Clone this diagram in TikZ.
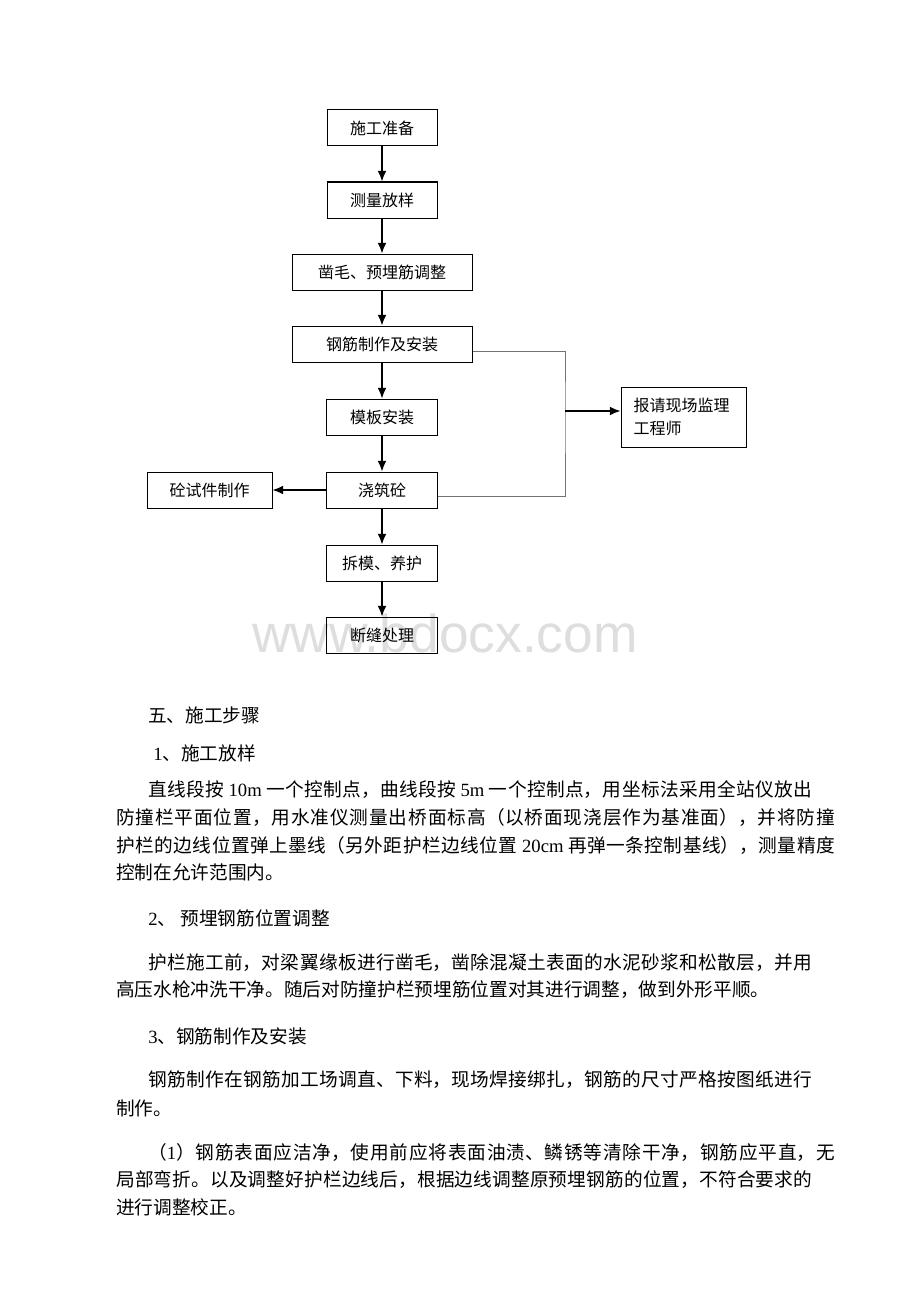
\documentclass[tikz,border=0pt]{standalone}
\usepackage{fontspec}
\setmainfont{Liberation Serif}
\newfontfamily\cjk{Noto Sans CJK SC}
\newfontfamily\wmfont{Liberation Sans}
\usetikzlibrary{arrows.meta,calc}
\XeTeXlinebreaklocale "zh"
\XeTeXlinebreakskip=0pt plus 2pt
\newcommand{\lat}[1]{{\rmfamily #1}}
\newcommand{\jl}[1]{\parfillskip=0pt\noindent#1\par}
\begin{document}
\begin{tikzpicture}[x=0.75pt,y=-0.75pt,
  flowbox/.style={draw,line width=0.75pt,inner sep=0pt,minimum height=27pt,
    font=\cjk\fontsize{12}{14}\selectfont},
  arr/.style={line width=0.9pt,-{Latex[length=8pt,width=6.5pt]}},
  feed/.style={draw=black!55,line width=0.6pt},
  body/.style={anchor=west,inner sep=0pt,font=\cjk\fontsize{14}{17}\selectfont},
  just/.style={body,text width=522pt,align=justify},
  wide/.style={body,text width=539pt,align=justify}]
\fill[white] (0,0) rectangle (920,1302);
\useasboundingbox (0,0) rectangle (920,1302);

% watermark
\node[text=black!13,font=\wmfont\fontsize{40}{40}\selectfont] (wm) at (445,633) {www.bdocx.com};

% flow chart
\node[flowbox,minimum width=82.5pt] (zhunbei) at (382,128) {施工准备};
\node[flowbox,minimum width=82.5pt] (celiang) at (382,200) {测量放样};
\node[flowbox,minimum width=135pt] (zaomao) at (382,272) {凿毛、预埋筋调整};
\node[flowbox,minimum width=135pt] (gangjin) at (382,344) {钢筋制作及安装};
\node[flowbox,minimum width=83pt] (muban) at (382,417) {模板安装};
\node[flowbox,minimum width=83pt] (jiaozhu) at (382,490) {浇筑砼};
\node[flowbox,minimum width=83pt] (chaimo) at (382,563) {拆模、养护};
\node[flowbox,minimum width=83pt] (duanfeng) at (382,635) {断缝处理};
\node[flowbox,minimum width=93.75pt] (shijian) at (209.5,490) {砼试件制作};
\node[flowbox,minimum width=93.75pt,minimum height=45pt,text width=75pt,align=left,
  font=\cjk\fontsize{12}{17}\selectfont] (jianli) at (683.5,417) {报请现场监理\\工程师};

\draw[arr] (zhunbei) -- (celiang);
\draw[arr] (celiang) -- (zaomao);
\draw[arr] (zaomao) -- (gangjin);
\draw[arr] (gangjin) -- (muban);
\draw[arr] (muban) -- (jiaozhu);
\draw[arr] (jiaozhu) -- (chaimo);
\draw[arr] (chaimo) -- (duanfeng);
\draw[arr] (jiaozhu) -- (shijian);

\coordinate (bus) at (565,411);
\draw[feed] ($(gangjin.east)+(0,7)$) -| (bus) |- ($(jiaozhu.east)+(0,6)$);
\draw[arr] (bus) -- (bus -| jianli.west);

% text below
\node[body] (h5) at (148,715) {五、施工步骤};
\node[body] (h51) at (153,753) {\lat{1}、施工放样};
\node[just] (p1a) at (116,790) {\jl{\hspace*{24pt}直线段按 \lat{10m} 一个控制点，曲线段按 \lat{5m} 一个控制点，用坐标法采用全站仪放出}};
\node[wide] (p1b) at (116,818) {\jl{防撞栏平面位置，用水准仪测量出桥面标高（以桥面现浇层作为基准面），并将防撞}};
\node[wide] (p1c) at (116,845) {\jl{护栏的边线位置弹上墨线（另外距护栏边线位置 \lat{20cm} 再弹一条控制基线），测量精度}};
\node[body] (p1d) at (116,872) {控制在允许范围内。};

\node[body] (h52) at (148,918) {\lat{2}、\ 预埋钢筋位置调整};
\node[just] (p2a) at (116,963) {\jl{\hspace*{24pt}护栏施工前，对梁翼缘板进行凿毛，凿除混凝土表面的水泥砂浆和松散层，并用}};
\node[body] (p2b) at (116,990) {高压水枪冲洗干净。随后对防撞护栏预埋筋位置对其进行调整，做到外形平顺。};

\node[body] (h53) at (148,1036) {\lat{3}、钢筋制作及安装};
\node[just] (p3a) at (116,1080) {\jl{\hspace*{24pt}钢筋制作在钢筋加工场调直、下料，现场焊接绑扎，钢筋的尺寸严格按图纸进行}};
\node[body] (p3b) at (116,1108) {制作。};

\node[wide] (p4a) at (116,1152) {\jl{\hspace*{24pt}（\lat{1}）钢筋表面应洁净，使用前应将表面油渍、鳞锈等清除干净，钢筋应平直，无}};
\node[just] (p4b) at (116,1180) {\jl{局部弯折。以及调整好护栏边线后，根据边线调整原预埋钢筋的位置，不符合要求的}};
\node[body] (p4c) at (116,1207) {进行调整校正。};
\end{tikzpicture}
\end{document}
